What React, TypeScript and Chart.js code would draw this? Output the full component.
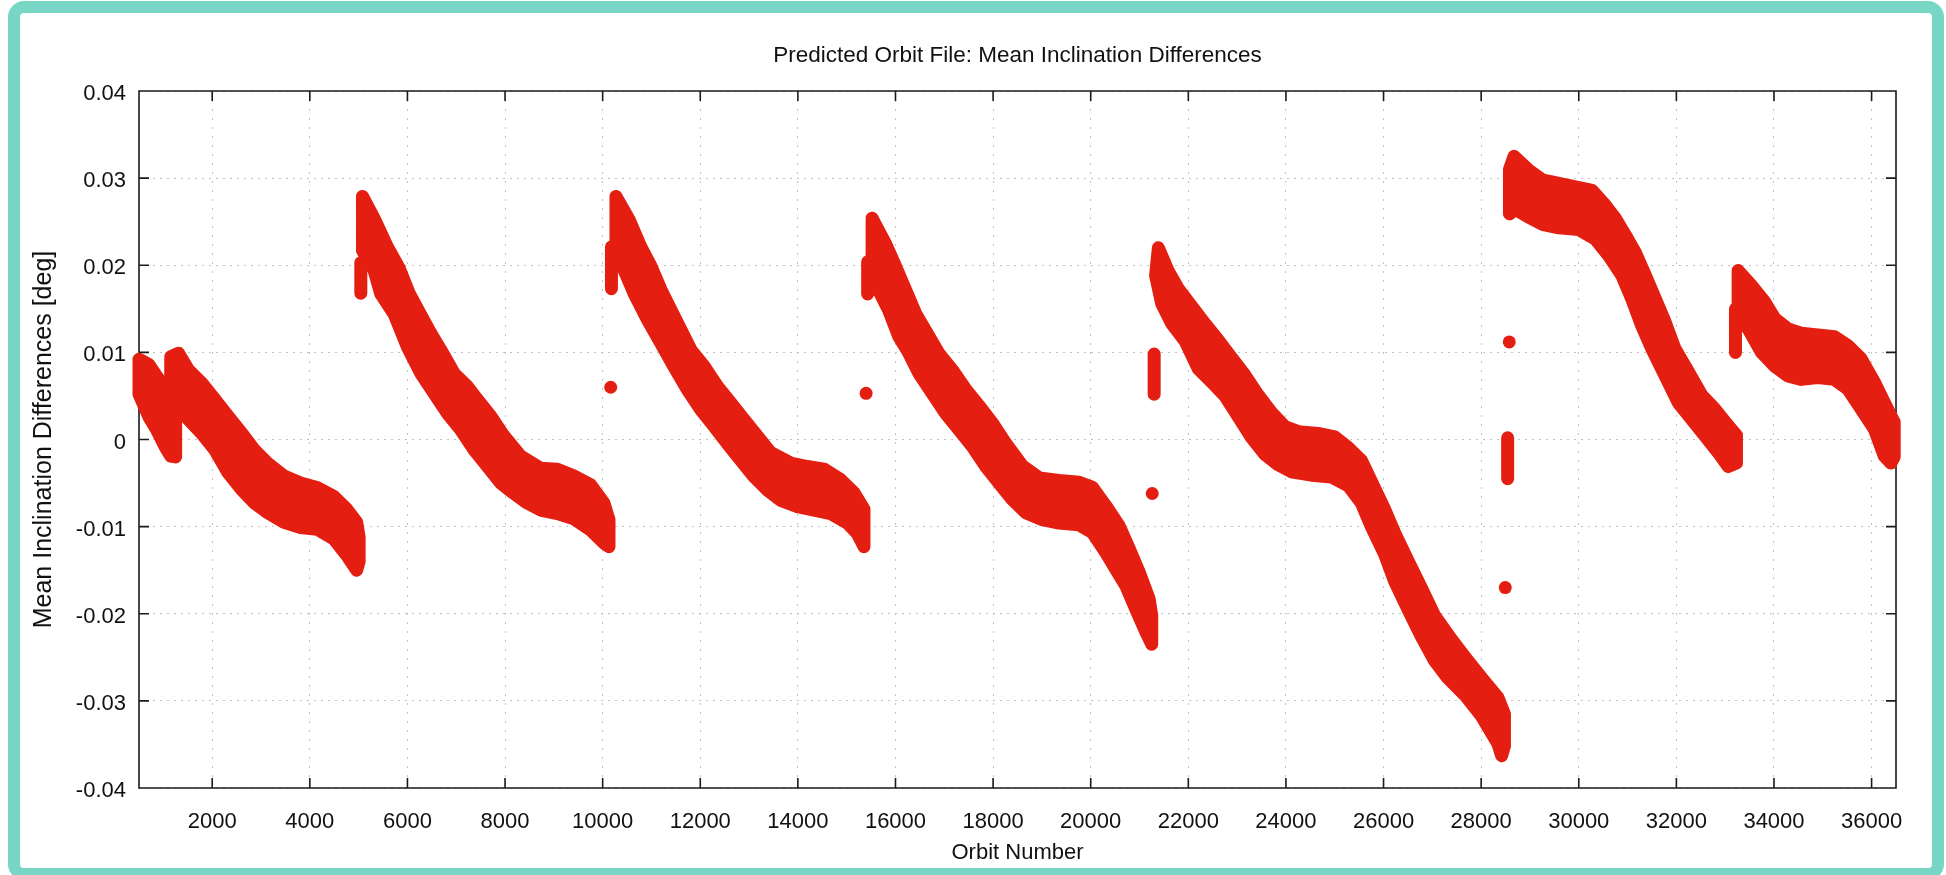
import React, { useEffect, useRef } from "react";
import { Chart, registerables } from "chart.js";

Chart.register(...registerables);

// ---------- text ----------
const TITLE = "Predicted Orbit File: Mean Inclination Differences";
const X_TITLE = "Orbit Number";
const Y_TITLE = "Mean Inclination Differences [deg]";

// ---------- axes ----------
const xMin = 500;
const xMax = 36500;
const xTicks = [2000, 4000, 6000, 8000, 10000, 12000, 14000, 16000, 18000, 20000, 22000, 24000, 26000, 28000, 30000, 32000, 34000, 36000];
const yMin = -0.04;
const yMax = 0.04;
const yTicks = [-0.04, -0.03, -0.02, -0.01, 0, 0.01, 0.02, 0.03, 0.04];
const yTickLabels = ["-0.04", "-0.03", "-0.02", "-0.01", "0", "0.01", "0.02", "0.03", "0.04"];

// ---------- data: dense orbit-by-orbit clusters, given as upper / lower edges ----------
// segment 1a
const s1aTopX = [500, 703, 872, 1041, 1150, 1250];
const s1aTopY = [0.0092, 0.0086, 0.0072, 0.0059, 0.0045, 0.0027];
const s1aBotX = [500, 703, 872, 1041, 1150, 1250];
const s1aBotY = [0.0052, 0.0026, 0.001, -0.0009, -0.0019, -0.002];
// segment 1b
const s1bTopX = [1150, 1311, 1513, 1784, 2054, 2324, 2595, 2865, 3135, 3473, 3811, 4149, 4487, 4757, 4960, 5010];
const s1bTopY = [0.0095, 0.0099, 0.008, 0.0065, 0.0046, 0.0027, 0.0008, -0.0012, -0.0027, -0.0042, -0.005, -0.0055, -0.0065, -0.008, -0.0095, -0.0112];
const s1bBotX = [1150, 1311, 1513, 1784, 2054, 2324, 2595, 2865, 3135, 3473, 3811, 4149, 4487, 4757, 4960, 5010];
const s1bBotY = [0.004, 0.0035, 0.0023, 0.0007, -0.0012, -0.0038, -0.0057, -0.0073, -0.0084, -0.0095, -0.0101, -0.0103, -0.0114, -0.0133, -0.015, -0.014];
// segment 2
const s2TopX = [5079, 5317, 5590, 5829, 6034, 6273, 6478, 6683, 6956, 7229, 7433, 7707, 7980, 8321, 8730, 9072, 9413, 9754, 10027, 10130];
const s2TopY = [0.0279, 0.0254, 0.0221, 0.0197, 0.0168, 0.0143, 0.0122, 0.0103, 0.0076, 0.0061, 0.0046, 0.0027, 0.0004, -0.0019, -0.0033, -0.0034, -0.0042, -0.0052, -0.0073, -0.0092];
const s2BotX = [5079, 5317, 5454, 5727, 6000, 6273, 6546, 6819, 7092, 7365, 7638, 7911, 8184, 8457, 8730, 9072, 9413, 9754, 10027, 10130];
const s2BotY = [0.0217, 0.0194, 0.0167, 0.0144, 0.0106, 0.0076, 0.0053, 0.003, 0.0011, -0.0012, -0.0031, -0.005, -0.0062, -0.0073, -0.0081, -0.0085, -0.0091, -0.0104, -0.0119, -0.0123];
// segment 3
const s3TopX = [10273, 10546, 10784, 10989, 11194, 11398, 11603, 11808, 12081, 12353, 12626, 12899, 13171, 13444, 13853, 14194, 14535, 14876, 15149, 15354];
const s3TopY = [0.0279, 0.0252, 0.0221, 0.0199, 0.0172, 0.0149, 0.0126, 0.0103, 0.0084, 0.0061, 0.0042, 0.0023, 0.0004, -0.0015, -0.0027, -0.0031, -0.0034, -0.0046, -0.0061, -0.008];
const s3BotX = [10273, 10443, 10648, 10921, 11194, 11466, 11739, 12012, 12285, 12558, 12830, 13103, 13376, 13649, 13990, 14331, 14672, 15013, 15217, 15354];
const s3BotY = [0.0215, 0.0194, 0.0167, 0.0137, 0.011, 0.0083, 0.0057, 0.0034, 0.0015, -0.0005, -0.0024, -0.0043, -0.0058, -0.007, -0.0077, -0.0081, -0.0085, -0.0096, -0.0108, -0.0123];
// segment 4
const s4TopX = [15521, 15795, 16000, 16205, 16410, 16650, 16889, 17163, 17436, 17710, 17984, 18257, 18599, 18941, 19352, 19762, 20036, 20309, 20583, 20788, 20993, 21198, 21250];
const s4TopY = [0.0254, 0.0225, 0.0199, 0.0172, 0.0145, 0.0122, 0.0099, 0.008, 0.0058, 0.0039, 0.0019, -0.0004, -0.003, -0.0044, -0.0047, -0.0049, -0.0055, -0.0076, -0.0099, -0.0125, -0.0152, -0.0183, -0.0202];
const s4BotX = [15521, 15658, 15863, 16068, 16274, 16479, 16752, 17026, 17300, 17573, 17847, 18120, 18394, 18668, 19010, 19352, 19762, 20036, 20309, 20514, 20720, 20925, 21130, 21250];
const s4BotY = [0.02, 0.0171, 0.0148, 0.0118, 0.0099, 0.0076, 0.0053, 0.003, 0.0011, -0.0008, -0.0031, -0.005, -0.0069, -0.0084, -0.0092, -0.0096, -0.0098, -0.0107, -0.013, -0.0149, -0.0168, -0.0195, -0.0221, -0.0235];
// segment 5
const s5TopX = [21386, 21591, 21795, 22068, 22341, 22614, 22887, 23159, 23432, 23705, 23978, 24250, 24659, 25000, 25273, 25546, 25750, 26023, 26228, 26500, 26773, 27046, 27387, 27660, 28001, 28342, 28477];
const s5TopY = [0.022, 0.0193, 0.0173, 0.0153, 0.0133, 0.0114, 0.0094, 0.0074, 0.0051, 0.0031, 0.0015, 0.0009, 0.0007, 0.0003, -0.0009, -0.0024, -0.0048, -0.008, -0.0107, -0.0139, -0.017, -0.0202, -0.0229, -0.0249, -0.0273, -0.0296, -0.0315];
const s5BotX = [21330, 21454, 21659, 21932, 22205, 22477, 22750, 23023, 23296, 23568, 23841, 24114, 24523, 24932, 25273, 25546, 25750, 26023, 26228, 26500, 26773, 27046, 27319, 27660, 28001, 28342, 28420, 28477];
const s5BotY = [0.0188, 0.0156, 0.0133, 0.0113, 0.0081, 0.0066, 0.005, 0.0026, 0.0002, -0.0017, -0.0029, -0.0037, -0.0041, -0.0043, -0.0053, -0.0073, -0.01, -0.0132, -0.0163, -0.0195, -0.0226, -0.0254, -0.0274, -0.0293, -0.0317, -0.0349, -0.0363, -0.0352];
// segment 6
const s6TopX = [28580, 28673, 28980, 29252, 29592, 29932, 30272, 30544, 30748, 30952, 31156, 31361, 31565, 31769, 31973, 32245, 32517, 32789, 33061, 33231];
const s6TopY = [0.031, 0.0325, 0.0309, 0.0298, 0.0294, 0.029, 0.0286, 0.0269, 0.0254, 0.0235, 0.0215, 0.0189, 0.0162, 0.0135, 0.0104, 0.0078, 0.0051, 0.0035, 0.0016, 0.0005];
const s6BotX = [28580, 28707, 28980, 29252, 29592, 30000, 30340, 30612, 30884, 31088, 31293, 31497, 31769, 32041, 32313, 32585, 32857, 33061, 33231];
const s6BotY = [0.0259, 0.0264, 0.0255, 0.0247, 0.0243, 0.0241, 0.023, 0.0211, 0.0188, 0.0161, 0.013, 0.0104, 0.0073, 0.0042, 0.0023, 0.0004, -0.0015, -0.0031, -0.0027];
// segment 7
const s7TopX = [33265, 33538, 33810, 34014, 34286, 34558, 34898, 35238, 35510, 35782, 36055, 36293, 36463];
const s7TopY = [0.0194, 0.0177, 0.0158, 0.0139, 0.0127, 0.0122, 0.012, 0.0118, 0.0108, 0.0093, 0.0066, 0.0039, 0.002];
const s7BotX = [33265, 33470, 33742, 34014, 34286, 34558, 34898, 35238, 35510, 35782, 36055, 36259, 36395, 36463];
const s7BotY = [0.014, 0.0127, 0.01, 0.0084, 0.0073, 0.0069, 0.0071, 0.0069, 0.0058, 0.0035, 0.0012, -0.0019, -0.0027, -0.002];

// short vertical clusters at the start of each segment
const barX = [5045, 10180, 15430, 21300, 28543, 33211];
const barTop = [0.0203, 0.0221, 0.0204, 0.0098, 0.0002, 0.015];
const barBot = [0.0168, 0.0173, 0.0167, 0.0052, -0.0045, 0.01];

// isolated points
const dotX = [10165, 15398, 21260, 28494, 28576];
const dotY = [0.006, 0.0053, -0.0062, -0.017, 0.0112];

const RED = "rgb(228,30,17)";
const FONT = "'Liberation Sans', Arial, Helvetica, sans-serif";

function band(topX: number[], topY: number[], botX: number[], botY: number[]) {
  const pts = topX.map((x, i) => ({ x, y: topY[i] }));
  for (let i = botX.length - 1; i >= 0; i--) pts.push({ x: botX[i], y: botY[i] });
  pts.push({ ...pts[0] });
  return pts;
}

const framePlugin = {
  id: "gnuFrame",
  beforeDatasetsDraw(chart: any) {
    const { ctx, chartArea: a, scales } = chart;
    ctx.save();
    ctx.strokeStyle = "#1b1b1b";
    ctx.lineWidth = 1.6;
    ctx.beginPath();
    ctx.rect(a.left, a.top, a.right - a.left, a.bottom - a.top);
    const tl = 10;
    for (const v of xTicks) {
      const px = scales.x.getPixelForValue(v);
      ctx.moveTo(px, a.bottom);
      ctx.lineTo(px, a.bottom - tl);
      ctx.moveTo(px, a.top);
      ctx.lineTo(px, a.top + tl);
    }
    for (const v of yTicks) {
      const py = scales.y.getPixelForValue(v);
      ctx.moveTo(a.left, py);
      ctx.lineTo(a.left + tl, py);
      ctx.moveTo(a.right, py);
      ctx.lineTo(a.right - tl, py);
    }
    ctx.stroke();
    ctx.restore();
  },
};

export default function App() {
  const ref = useRef<HTMLCanvasElement | null>(null);

  useEffect(() => {
    if (!ref.current) return;
    const bands = [
      band(s1aTopX, s1aTopY, s1aBotX, s1aBotY),
      band(s1bTopX, s1bTopY, s1bBotX, s1bBotY),
      band(s2TopX, s2TopY, s2BotX, s2BotY),
      band(s3TopX, s3TopY, s3BotX, s3BotY),
      band(s4TopX, s4TopY, s4BotX, s4BotY),
      band(s5TopX, s5TopY, s5BotX, s5BotY),
      band(s6TopX, s6TopY, s6BotX, s6BotY),
      band(s7TopX, s7TopY, s7BotX, s7BotY),
    ];
    const datasets: any[] = [];
    bands.forEach((pts) =>
      datasets.push({
        type: "line",
        data: pts,
        fill: "shape",
        backgroundColor: RED,
        borderColor: RED,
        borderWidth: 13,
        borderJoinStyle: "round",
        borderCapStyle: "round",
        pointRadius: 0,
        tension: 0,
        clip: false,
      })
    );
    barX.forEach((x, i) =>
      datasets.push({
        type: "line",
        data: [
          { x, y: barTop[i] },
          { x, y: barBot[i] },
        ],
        fill: false,
        borderColor: RED,
        borderWidth: 13,
        borderCapStyle: "round",
        pointRadius: 0,
        clip: false,
      })
    );
    datasets.push({
      type: "line",
      data: dotX.map((x, i) => ({ x, y: dotY[i] })),
      showLine: false,
      pointRadius: 6.5,
      pointBackgroundColor: RED,
      pointBorderWidth: 0,
      borderColor: RED,
      clip: false,
    });

    const chart = new Chart(ref.current, {
      type: "line",
      data: { datasets },
      options: {
        responsive: false,
        maintainAspectRatio: false,
        animation: false,
        events: [],
        layout: { padding: { left: 0, right: 50, top: 0, bottom: 0 } },
        plugins: {
          legend: { display: false },
          tooltip: { enabled: false },
          title: {
            display: true,
            text: TITLE,
            fullSize: false,
            color: "#111",
            font: { family: FONT, size: 22.5, weight: "normal" },
            padding: { top: 42.5, bottom: 21.5 },
          },
        },
        scales: {
          x: {
            type: "linear",
            min: xMin,
            max: xMax,
            afterBuildTicks: (s: any) => {
              s.ticks = xTicks.map((v) => ({ value: v }));
            },
            afterFit: (s: any) => {
              s.height = 87;
            },
            ticks: {
              color: "#111",
              font: { family: FONT, size: 22 },
              padding: 21,
              maxRotation: 0,
              autoSkip: false,
              callback: (v: any) => String(v),
            },
            grid: { color: "#c2c2c2", lineWidth: 1, drawTicks: false },
            border: { display: false, dash: [2, 7] },
            title: {
              display: true,
              text: X_TITLE,
              color: "#111",
              font: { family: FONT, size: 22 },
              padding: { top: 0, bottom: 9 },
            },
          },
          y: {
            type: "linear",
            min: yMin,
            max: yMax,
            afterBuildTicks: (s: any) => {
              s.ticks = yTicks.map((v) => ({ value: v }));
            },
            afterFit: (s: any) => {
              s.width = 139;
            },
            ticks: {
              color: "#111",
              font: { family: FONT, size: 22 },
              padding: 13,
              labelOffset: 3,
              callback: (v: any) => {
                const i = yTicks.findIndex((t) => Math.abs(t - Number(v)) < 1e-9);
                return i >= 0 ? yTickLabels[i] : "";
              },
            },
            grid: { color: "#c2c2c2", lineWidth: 1, drawTicks: false },
            border: { display: false, dash: [2, 5] },
            title: {
              display: true,
              text: Y_TITLE,
              color: "#111",
              font: { family: FONT, size: 25 },
              padding: { top: 29, bottom: 0 },
            },
          },
        },
      },
      plugins: [framePlugin],
    } as any);
    return () => chart.destroy();
  }, []);

  return (
    <div style={{ position: "fixed", left: 0, top: 0, width: 1946, height: 875, background: "#fff", overflow: "hidden" }}>
      <div
        style={{
          position: "absolute",
          left: 8,
          top: 1,
          width: 1936,
          height: 879,
          border: "12px solid #77d7c4",
          borderRadius: 16,
          boxSizing: "border-box",
        }}
      />
      <canvas ref={ref} width={1946} height={875} style={{ position: "absolute", left: 0, top: 0, display: "block" }} />
    </div>
  );
}
